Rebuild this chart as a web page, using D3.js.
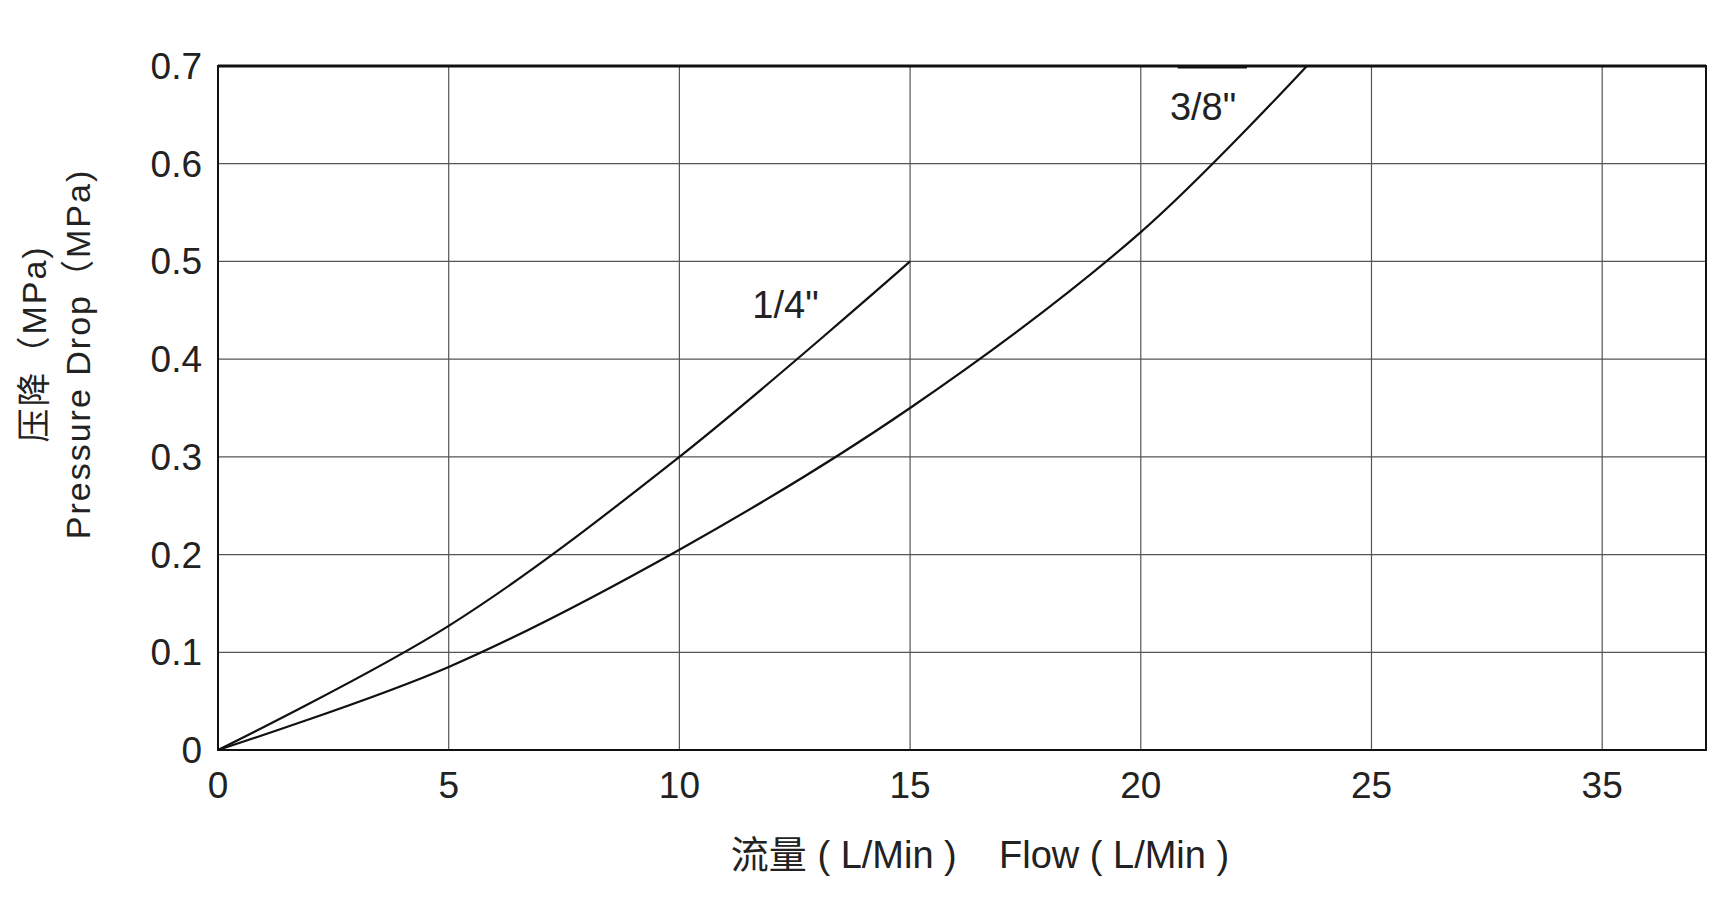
<!DOCTYPE html>
<html><head><meta charset="utf-8">
<script src="https://cdn.jsdelivr.net/npm/d3@7"></script>
<style>body{margin:0;background:#fff}</style></head>
<body><svg id="c" width="1736" height="906"></svg>
<script>
const xTickValues=[0,5,10,15,20,25,30];
const xTickLabels=["0","5","10","15","20","25","35"];
const yTickValues=[0,0.1,0.2,0.3,0.4,0.5,0.6,0.7];
const quarterFlow=[0,5,10,15];
const quarterDrop=[0,0.127,0.3,0.5];
const threeEighthFlow=[0,5,10,15,20,23.6];
const threeEighthDrop=[0,0.085,0.205,0.35,0.53,0.7];
const seriesNames=['1/4"','3/8"'];

const svg=d3.select("#c");
const L=218,R=1706,T=66,B=750;
const x=d3.scaleLinear().domain([0,32.25]).range([L,R]);
const y=d3.scaleLinear().domain([0,0.7]).range([B,T]);
const font='"Liberation Sans",Arial,sans-serif';
const g=svg.append("g");
g.selectAll(".vg").data(xTickValues.slice(1)).join("line")
 .attr("x1",d=>x(d)).attr("x2",d=>x(d)).attr("y1",T).attr("y2",B).attr("stroke","#555").attr("stroke-width",1.2);
g.selectAll(".hg").data(yTickValues.slice(1)).join("line")
 .attr("x1",L).attr("x2",R).attr("y1",d=>y(d)).attr("y2",d=>y(d)).attr("stroke","#555").attr("stroke-width",1.2);
g.append("rect").attr("x",L).attr("y",T).attr("width",R-L).attr("height",B-T).attr("fill","none").attr("stroke","#111").attr("stroke-width",2);
g.append("line").attr("x1",L).attr("x2",R).attr("y1",T).attr("y2",T).attr("stroke","#111").attr("stroke-width",3);

svg.selectAll(".xt").data(xTickValues).join("text")
 .attr("x",d=>x(d)).attr("y",B+48).attr("text-anchor","middle").attr("font-family",font).attr("font-size",37).attr("fill","#222")
 .text((d,i)=>xTickLabels[i]);
svg.selectAll(".yt").data(yTickValues).join("text")
 .attr("x",L-16).attr("y",d=>y(d)+13).attr("text-anchor","end").attr("font-family",font).attr("font-size",37).attr("fill","#222")
 .text(d=>d===0?"0":d.toFixed(1));

const line=d3.line().x(d=>x(d[0])).y(d=>y(d[1])).curve(d3.curveCatmullRom.alpha(0.5));
[[quarterFlow,quarterDrop],[threeEighthFlow,threeEighthDrop]].forEach(([f,p])=>{
 svg.append("path").attr("d",line(f.map((v,i)=>[v,p[i]]))).attr("fill","none").attr("stroke","#111").attr("stroke-width",2.2);
});
svg.append("line").attr("x1",x(20.8)).attr("x2",x(22.3)).attr("y1",T+1).attr("y2",T+1).attr("stroke","#111").attr("stroke-width",3);

svg.append("text").attr("x",x(12.3)).attr("y",y(0.45)+8).attr("text-anchor","middle").attr("font-family",font).attr("font-size",38).attr("fill","#222").text(seriesNames[0]);
svg.append("text").attr("x",x(21.35)).attr("y",y(0.655)+10).attr("text-anchor","middle").attr("font-family",font).attr("font-size",38).attr("fill","#222").text(seriesNames[1]);

svg.append("text").attr("transform","translate(46,344) rotate(-90)").attr("text-anchor","middle")
 .attr("font-family",'"Liberation Sans","Noto Sans CJK SC",sans-serif').attr("font-size",34).attr("letter-spacing",2).attr("fill","#222").text("压降（MPa)");
svg.append("text").attr("transform","translate(90,354) rotate(-90)").attr("text-anchor","middle")
 .attr("font-family",'"Liberation Sans","Noto Sans CJK SC",sans-serif').attr("font-size",34).attr("letter-spacing",2).attr("fill","#222").text("Pressure Drop（MPa)");
svg.append("text").attr("x",980).attr("y",868).attr("text-anchor","middle").attr("xml:space","preserve")
 .attr("font-family",'"Liberation Sans","Noto Sans CJK SC",sans-serif').attr("font-size",38).attr("fill","#222")
 .text("流量 ( L/Min )    Flow ( L/Min )");
</script></body></html>
